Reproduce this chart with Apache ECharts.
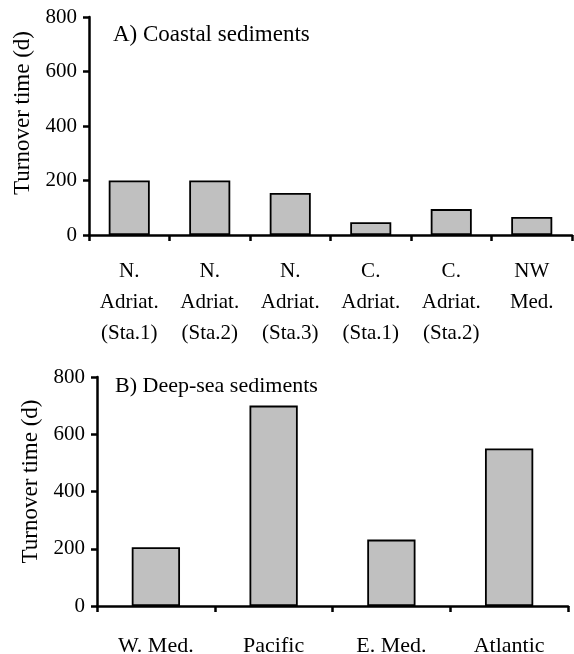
<!DOCTYPE html>
<html>
<head>
<meta charset="utf-8">
<script src="https://cdn.jsdelivr.net/npm/echarts@6/dist/echarts.min.js"></script>
<style>
html,body{margin:0;padding:0;background:#fff;}
#c{width:574px;height:654px;}
</style>
</head>
<body>
<div id="c"></div>
<script>
const coastalCategories = ["N.\nAdriat.\n(Sta.1)", "N.\nAdriat.\n(Sta.2)", "N.\nAdriat.\n(Sta.3)", "C.\nAdriat.\n(Sta.1)", "C.\nAdriat.\n(Sta.2)", "NW\nMed."];
const coastalValues = [200, 200, 154, 47, 95, 66];
const deepCategories = ["W. Med.", "Pacific", "E. Med.", "Atlantic"];
const deepValues = [205, 700, 232, 550];
const yTicks = [0, 200, 400, 600, 800];
const titleA = "A) Coastal sediments";
const titleB = "B) Deep-sea sediments";
const yName = "Turnover time (d)";

const FONT = "Liberation Serif";
const axisLine = {show: true, lineStyle: {color: "#000", width: 2.5}};
const axisTick = {show: true, inside: false, length: 6, lineStyle: {color: "#000", width: 2.5}};

function yAxis(gridIndex, gap, pad) {
  return {
    type: "value", gridIndex: gridIndex, min: yTicks[0], max: yTicks[yTicks.length - 1], interval: 200,
    name: yName, nameLocation: "middle", nameGap: gap,
    nameTextStyle: {fontFamily: FONT, fontSize: 23, color: "#000", padding: pad},
    axisLine: axisLine, axisTick: axisTick, splitLine: {show: false},
    axisLabel: {fontFamily: FONT, fontSize: 21, color: "#000", margin: 12}
  };
}
function xAxis(gridIndex, cats, fontSize, lineHeight, margin) {
  return {
    type: "category", gridIndex: gridIndex, data: cats, boundaryGap: true,
    axisLine: axisLine, axisTick: axisTick,
    axisLabel: {fontFamily: FONT, fontSize: fontSize, color: "#000", margin: margin, lineHeight: lineHeight, interval: 0}
  };
}

const chart = echarts.init(document.getElementById("c"), null, {renderer: "canvas"});
chart.setOption({
  animation: false,
  backgroundColor: "#fff",
  title: [
    {text: titleA, left: 108, top: 18, textStyle: {fontFamily: FONT, fontSize: 23, fontWeight: "normal", color: "#000"}},
    {text: titleB, left: 110, top: 370, textStyle: {fontFamily: FONT, fontSize: 22, fontWeight: "normal", color: "#000"}}
  ],
  grid: [
    {left: 89, right: 2, top: 17, height: 218, containLabel: false, outerBoundsMode: "none"},
    {left: 97, right: 6, top: 377, height: 229, containLabel: false, outerBoundsMode: "none"}
  ],
  xAxis: [xAxis(0, coastalCategories, 21, 31, 21), xAxis(1, deepCategories, 22, 30, 25)],
  yAxis: [yAxis(0, 55, [0, 0, 0, 26]), yAxis(1, 52, [0, 0, 0, 20])],
  series: [
    {type: "bar", xAxisIndex: 0, yAxisIndex: 0, data: coastalValues, barWidth: "51%",
     itemStyle: {color: "#c0c0c0", borderColor: "#000", borderWidth: 1.8}},
    {type: "bar", xAxisIndex: 1, yAxisIndex: 1, data: deepValues, barWidth: "41%",
     itemStyle: {color: "#c0c0c0", borderColor: "#000", borderWidth: 1.8}}
  ]
});
</script>
</body>
</html>
